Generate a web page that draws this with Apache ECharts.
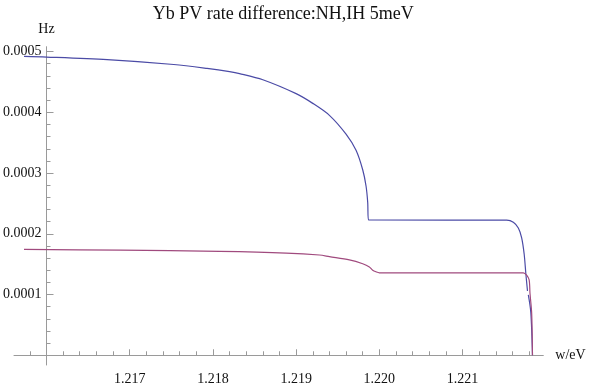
<!DOCTYPE html>
<html>
<head>
<meta charset="utf-8">
<script src="https://cdn.jsdelivr.net/npm/echarts@6/dist/echarts.min.js"></script>
<style>
  html, body { margin: 0; padding: 0; background: #fff; }
  #chart { width: 589px; height: 386px; }
</style>
</head>
<body>
<div id="chart"></div>
<script>
// photon energy (eV) and rate difference (Hz)
const nhX = [1.21573, 1.21600, 1.21673, 1.21753, 1.21793, 1.21820, 1.21832, 1.21860, 1.21900,
  1.21920, 1.21940, 1.21960, 1.21972, 1.21980, 1.21984, 1.21986, 1.21987, 1.22153, 1.22161,
  1.22167, 1.22171, 1.22174, 1.22176, 1.22178, 1.221785, 1.22179, 1.22182, 1.22184]
const nhY = [0.000492, 0.000491, 0.0004867, 0.0004787, 0.0004723, 0.000467, 0.0004638, 0.0004536, 0.0004307,
  0.0004147, 0.000395, 0.000364, 0.0003374, 0.0003054, 0.0002787, 0.000252, 0.0002227, 0.0002225, 0.000219,
  0.0002094, 0.0001934, 0.0001667, 0.0001347, 0.0001059, null, 0.0000995, 0.0000707, 0]

const ihX = [1.21573, 1.21689, 1.21808, 1.21888, 1.21928, 1.21940, 1.21964, 1.21980, 1.21988,
  1.21992, 1.21996, 1.22000, 1.22173, 1.22177, 1.22180, 1.22181, 1.22183, 1.22184]
const ihY = [0.0001742, 0.0001731, 0.000171, 0.0001683, 0.0001651, 0.0001624, 0.0001571, 0.0001507, 0.0001454,
  0.00014, 0.0001374, 0.0001358, 0.0001358, 0.000132, 0.000124, 0.000102, 0.00007, 0]

// ticks
const xMajor = [1.217, 1.218, 1.219, 1.220, 1.221]
const xMinor = [1.2158, 1.2162, 1.2164, 1.2166, 1.2168, 1.2172, 1.2174, 1.2176, 1.2178,
  1.2182, 1.2184, 1.2186, 1.2188, 1.2192, 1.2194, 1.2196, 1.2198,
  1.2202, 1.2204, 1.2206, 1.2208, 1.2212, 1.2214, 1.2216, 1.2218]
const yMajor = [0.0001, 0.0002, 0.0003, 0.0004, 0.0005]
const yMinor = [0.00002, 0.00004, 0.00006, 0.00008, 0.00012, 0.00014, 0.00016, 0.00018,
  0.00022, 0.00024, 0.00026, 0.00028, 0.00032, 0.00034, 0.00036, 0.00038,
  0.00042, 0.00044, 0.00046, 0.00048]

const xMin = 1.21561, xMax = 1.22197, xOrigin = 1.216
const yMin = -0.000016, yMax = 0.000508

const W = 589
const grid = { left: 13.3, right: 45.7, top: 46.7, bottom: 11.7 }
const gridW = W - grid.left - grid.right
// move the y axis onto x = 1.216
const yOffset = -((xOrigin - xMin) / (xMax - xMin)) * gridW

const font = 'Liberation Serif, Times New Roman, serif'
const axisGray = '#9a9a9a'
const textColor = '#111'

const zip = (xs, ys) => xs.map((x, i) => [x, ys[i]])

const myChart = echarts.init(document.getElementById('chart'))
myChart.setOption({
  animation: false,
  title: {
    text: 'Yb PV rate difference:NH,IH 5meV',
    left: grid.left + gridW / 2,
    textAlign: 'center',
    top: 0,
    textStyle: { fontFamily: font, fontSize: 18, fontWeight: 'normal', color: textColor }
  },
  grid: grid,
  xAxis: [
    {
      type: 'value',
      min: xMin,
      max: xMax,
      name: 'w/eV',
      nameLocation: 'end',
      nameGap: 12,
      nameTextStyle: { fontFamily: font, fontSize: 14, color: textColor },
      axisLine: { onZero: true, onZeroAxisIndex: 0, lineStyle: { color: axisGray, width: 1 } },
      axisTick: { inside: true, length: 6, customValues: xMajor, lineStyle: { color: axisGray } },
      axisLabel: {
        customValues: xMajor,
        margin: 7,
        fontFamily: font,
        fontSize: 14,
        color: textColor,
        formatter: (v) => v.toFixed(3)
      },
      splitLine: { show: false }
    },
    {
      type: 'value',
      position: 'bottom',
      min: xMin,
      max: xMax,
      axisLine: { show: false, onZero: true, onZeroAxisIndex: 0 },
      axisTick: { inside: true, length: 4, customValues: xMinor, lineStyle: { color: axisGray } },
      axisLabel: { show: false },
      splitLine: { show: false }
    }
  ],
  yAxis: [
    {
      type: 'value',
      position: 'left',
      min: yMin,
      max: yMax,
      offset: yOffset,
      name: 'Hz',
      nameLocation: 'end',
      nameGap: 10,
      nameTextStyle: { fontFamily: font, fontSize: 14, color: textColor },
      axisLine: { onZero: false, lineStyle: { color: axisGray, width: 1 } },
      axisTick: { inside: true, length: 7, customValues: yMajor, lineStyle: { color: axisGray } },
      axisLabel: {
        customValues: yMajor,
        margin: 5,
        fontFamily: font,
        fontSize: 14,
        color: textColor,
        formatter: (v) => v.toFixed(4)
      },
      splitLine: { show: false }
    },
    {
      type: 'value',
      position: 'left',
      min: yMin,
      max: yMax,
      offset: yOffset,
      axisLine: { show: false, onZero: false },
      axisTick: { inside: true, length: 4, customValues: yMinor, lineStyle: { color: axisGray } },
      axisLabel: { show: false },
      splitLine: { show: false }
    }
  ],
  series: [
    {
      name: 'NH',
      type: 'line',
      data: zip(nhX, nhY),
      showSymbol: false,
      connectNulls: false,
      smooth: 0.3,
      lineStyle: { color: '#4b4ba6', width: 1.2 },
      z: 3
    },
    {
      name: 'IH',
      type: 'line',
      data: zip(ihX, ihY),
      showSymbol: false,
      smooth: 0.3,
      lineStyle: { color: '#a04a7e', width: 1.2 },
      z: 3
    }
  ]
})

window.addEventListener('resize', function () {
  myChart.resize()
})
</script>
</body>
</html>
